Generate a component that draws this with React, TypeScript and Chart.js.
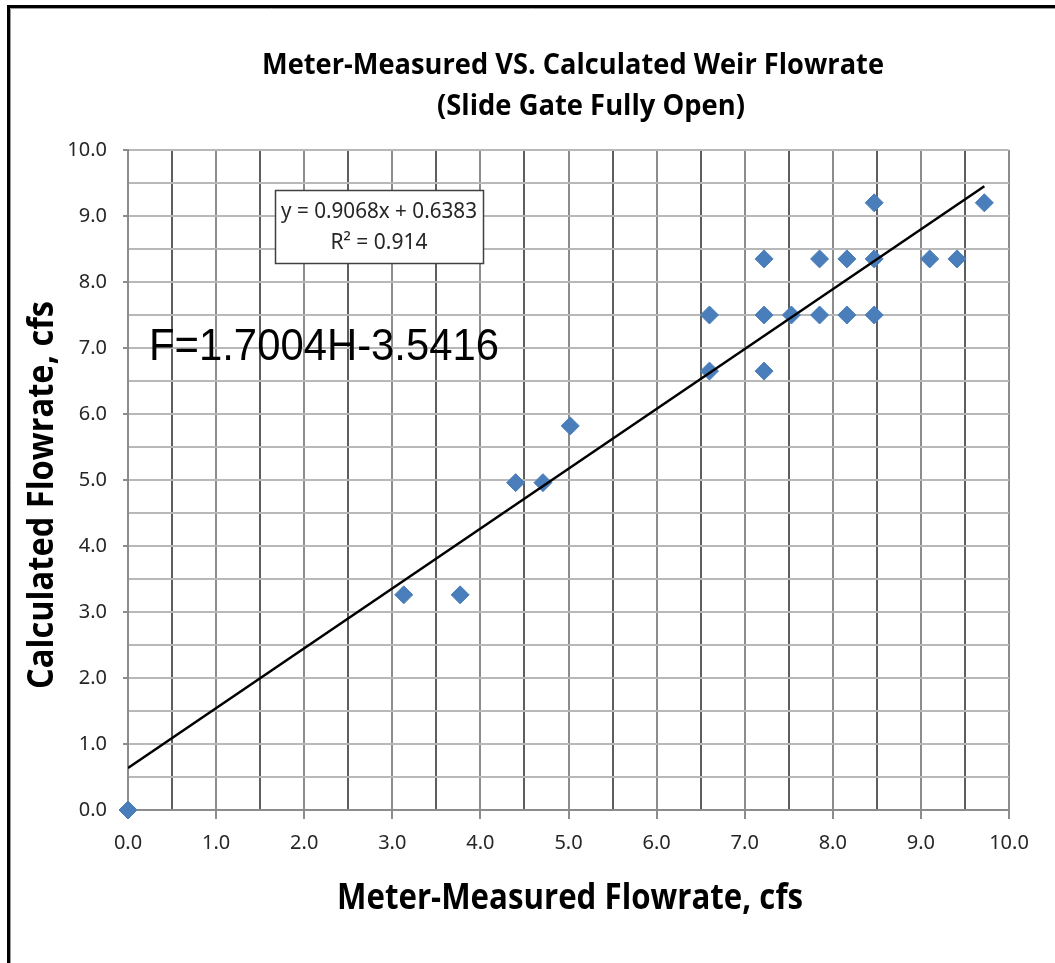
import React, { useEffect, useRef } from "react";
import { Chart, registerables } from "chart.js";

Chart.register(...registerables);

// ---- Data ----
const measuredFlow = [0, 3.13, 3.77, 4.4, 4.71, 5.02, 6.6, 6.6, 7.22, 7.22, 7.22, 7.53, 7.85, 7.85, 8.16, 8.16, 8.47, 8.47, 8.47, 9.1, 9.41, 9.72];
const calculatedFlow = [0, 3.26, 3.26, 4.96, 4.96, 5.82, 6.65, 7.5, 8.35, 7.5, 6.65, 7.5, 8.35, 7.5, 8.35, 7.5, 9.2, 8.35, 7.5, 8.35, 8.35, 9.2];
const trendX = [0, 9.72];
const trendY = [0.638, 9.452];
const tickLabels = ["0.0", "1.0", "2.0", "3.0", "4.0", "5.0", "6.0", "7.0", "8.0", "9.0", "10.0"];

const titleLines = ["Meter-Measured VS. Calculated Weir Flowrate", "(Slide Gate Fully Open)"];
const xTitle = "Meter-Measured Flowrate, cfs";
const yTitle = "Calculated Flowrate, cfs";
const eqLines = ["y = 0.9068x + 0.6383", "R² = 0.914"];
const formulaText = "F=1.7004H-3.5416";

const W = 1055;
const H = 963;

const labelFor = (v: number) => {
  const i = Math.round(v);
  return Math.abs(v - i) < 1e-6 ? tickLabels[i] ?? "" : "";
};

const overlay = {
  id: "overlay",
  beforeDraw(chart: any) {
    const ctx = chart.ctx;
    ctx.save();
    ctx.fillStyle = "#ffffff";
    ctx.fillRect(0, 0, W, H);
    // outer frame (left + top only)
    ctx.strokeStyle = "#000000";
    ctx.lineWidth = 3;
    ctx.beginPath();
    ctx.moveTo(8.5, H);
    ctx.lineTo(8.5, 6.5);
    ctx.lineTo(W, 6.5);
    ctx.stroke();
    ctx.strokeStyle = "#9a9a9a";
    ctx.lineWidth = 1;
    ctx.beginPath();
    ctx.moveTo(10.5, H);
    ctx.lineTo(10.5, 8.5);
    ctx.lineTo(W, 8.5);
    ctx.stroke();
    ctx.restore();
  },
  afterDraw(chart: any) {
    const ctx = chart.ctx;
    ctx.save();
    ctx.fillStyle = "#000000";
    ctx.textAlign = "center";
    ctx.textBaseline = "alphabetic";
    // Title
    ctx.font = "bold 29px 'Open Sans'";
    ctx.fillText(titleLines[0], 573, 74, 622);
    ctx.fillText(titleLines[1], 591, 115, 308);
    // X axis title
    ctx.font = "bold 36px 'Open Sans'";
    ctx.fillText(xTitle, 570, 909, 466);
    // Y axis title
    ctx.save();
    ctx.translate(53, 495);
    ctx.rotate(-Math.PI / 2);
    ctx.fillText(yTitle, 0, 0, 388);
    ctx.restore();

    // Equation box
    ctx.fillStyle = "#ffffff";
    ctx.fillRect(275, 190, 208, 73);
    ctx.strokeStyle = "#404040";
    ctx.lineWidth = 1.5;
    ctx.strokeRect(275.5, 190.5, 208, 73);
    ctx.fillStyle = "#262626";
    ctx.font = "21px 'Noto Sans'";
    ctx.textBaseline = "middle";
    ctx.fillText(eqLines[0], 379, 212, 196);
    ctx.fillText(eqLines[1], 379, 243, 196);

    // Formula text
    ctx.fillStyle = "#000000";
    ctx.textAlign = "left";
    ctx.textBaseline = "alphabetic";
    ctx.font = "44px 'Liberation Sans'";
    ctx.fillText(formulaText, 149, 360, 350);
    ctx.restore();
  },
};

export default function App() {
  const ref = useRef<HTMLCanvasElement | null>(null);

  useEffect(() => {
    if (!ref.current) return;
    const scatterData = measuredFlow.map((x, i) => ({ x, y: calculatedFlow[i] }));
    const trendData = trendX.map((x, i) => ({ x, y: trendY[i] }));

    const chart = new Chart(ref.current, {
      type: "scatter",
      data: {
        datasets: [
          {
            label: "Linear trend",
            data: trendData,
            showLine: true,
            borderColor: "#000000",
            borderWidth: 2.5,
            pointRadius: 0,
            order: 0,
          },
          {
            label: "Calculated",
            data: scatterData,
            pointStyle: "rectRot",
            pointRadius: 9,
            pointBackgroundColor: "#4a7ebb",
            pointBorderColor: "#4a7ebb",
            pointBorderWidth: 1,
            clip: false,
            order: 1,
          },
        ],
      },
      options: {
        responsive: false,
        animation: false,
        events: [],
        layout: { padding: { top: 150, right: 46, left: 0, bottom: 0 } },
        plugins: {
          legend: { display: false },
          title: { display: false },
          tooltip: { enabled: false },
        },
        scales: {
          x: {
            type: "linear",
            min: 0,
            max: 10,
            afterFit: (s: any) => {
              s.height = 153;
            },
            ticks: {
              stepSize: 0.5,
              autoSkip: false,
              maxRotation: 0,
              padding: 12,
              color: "#262626",
              font: { family: "'Noto Sans'", size: 20 },
              callback: (v: any) => labelFor(Number(v)),
            },
            grid: {
              lineWidth: 2,
              tickLength: 9,
              color: (c: any) => {
                const v = c.tick ? c.tick.value : 0;
                return Math.abs(v - Math.round(v)) < 1e-6 ? "#8c8c8c" : "#5e5e5e";
              },
              tickColor: (c: any) => {
                const v = c.tick ? c.tick.value : 0;
                return Math.abs(v - Math.round(v)) < 1e-6 ? "#8c8c8c" : "rgba(0,0,0,0)";
              },
            },
            border: { color: "#8c8c8c", width: 2 },
          },
          y: {
            type: "linear",
            min: 0,
            max: 10,
            afterFit: (s: any) => {
              s.width = 128;
            },
            ticks: {
              stepSize: 0.5,
              autoSkip: false,
              padding: 16,
              color: "#262626",
              font: { family: "'Noto Sans'", size: 20 },
              callback: (v: any) => labelFor(Number(v)),
            },
            grid: {
              lineWidth: 2,
              tickLength: 5,
              color: "#b8b8b8",
              tickColor: (c: any) => {
                const v = c.tick ? c.tick.value : 0;
                return Math.abs(v - Math.round(v)) < 1e-6 ? "#8c8c8c" : "rgba(0,0,0,0)";
              },
            },
            border: { color: "#8c8c8c", width: 2 },
          },
        },
      },
      plugins: [overlay],
    });
    return () => chart.destroy();
  }, []);

  return (
    <div style={{ position: "fixed", left: 0, top: 0, width: W, height: H, background: "#fff" }}>
      <canvas ref={ref} width={W} height={H} style={{ display: "block", width: W, height: H }} />
    </div>
  );
}
